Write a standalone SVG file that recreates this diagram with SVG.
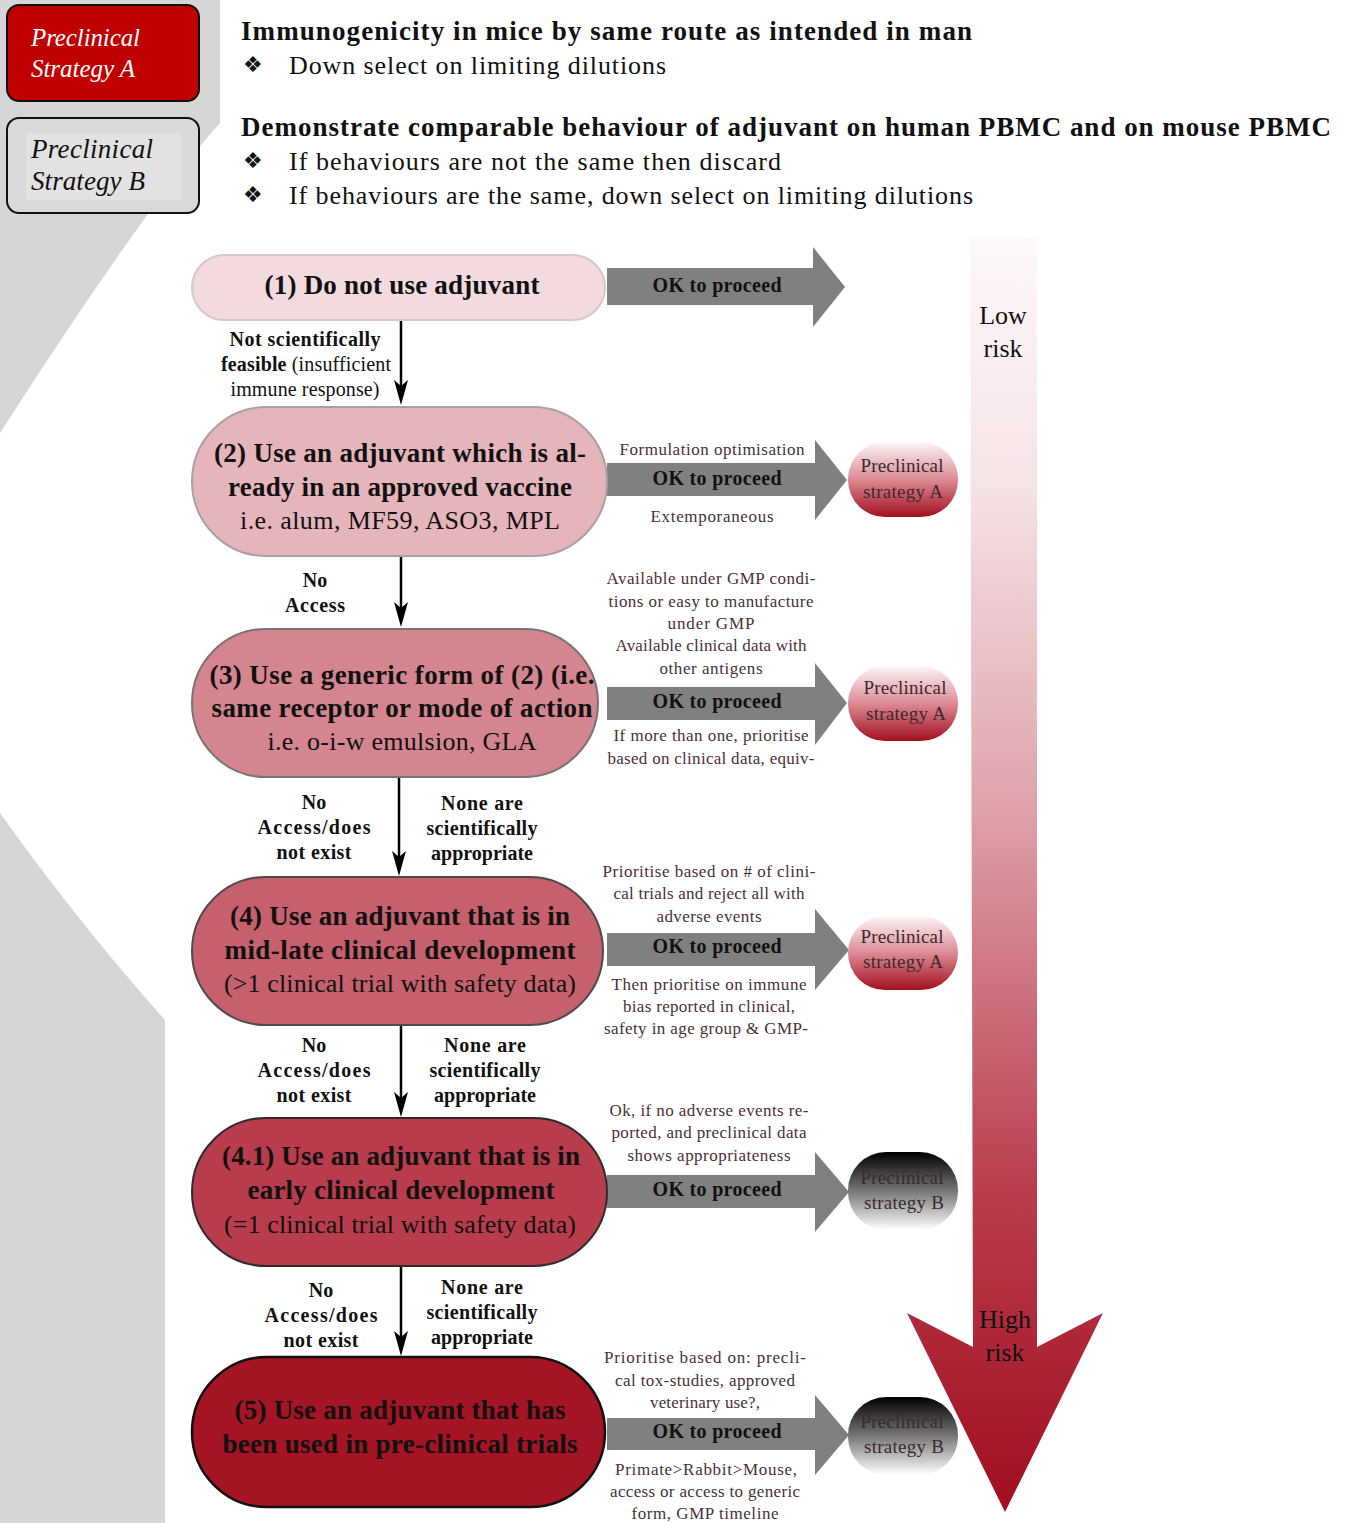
<svg xmlns="http://www.w3.org/2000/svg" width="1347" height="1523" viewBox="0 0 1347 1523">
<defs>
<style>
text{font-family:"Liberation Serif","DejaVu Serif",serif;fill:#111}
.b{font-weight:bold}
.hd{font-size:27px}
.bl{font-size:26px}
.nd{font-size:26px}
.nb{font-size:27px;font-weight:bold}
.lb{font-size:20px;font-weight:bold;text-anchor:middle}
.sn{font-size:17px;fill:#4a3035;text-anchor:middle}
.ok{font-size:20px;font-weight:bold;text-anchor:middle}
.bd{font-size:19px;fill:#3a2a2c;text-anchor:middle}
.mid{text-anchor:middle}
.blk{fill:#808080}
.conn{stroke:#000;stroke-width:2.5;fill:none}
.head{fill:#000}
</style>
<linearGradient id="gA" x1="0" y1="0" x2="0" y2="1">
<stop offset="0" stop-color="#fdf6f7"/>
<stop offset="0.5" stop-color="#dc8a95"/>
<stop offset="1" stop-color="#a30f1f"/>
</linearGradient>
<linearGradient id="gB" x1="0" y1="0" x2="0" y2="1">
<stop offset="0" stop-color="#000"/>
<stop offset="0.5" stop-color="#777"/>
<stop offset="1" stop-color="#fff"/>
</linearGradient>
<linearGradient id="gR" gradientUnits="userSpaceOnUse" x1="0" y1="238" x2="0" y2="1512">
<stop offset="0" stop-color="#fdf8f9"/>
<stop offset="0.2" stop-color="#f5e2e5"/>
<stop offset="0.45" stop-color="#dfa1aa"/>
<stop offset="0.75" stop-color="#b93c4d"/>
<stop offset="1" stop-color="#a10e20"/>
</linearGradient>
</defs>

<!-- background -->
<rect width="1347" height="1523" fill="#fff"/>
<path d="M0,0 H220 V123 Q150,200 0,433 Z" fill="#d6d6d6"/>
<path d="M0,813 Q80,925 165,1020 V1523 H0 Z" fill="#d6d6d6"/>

<!-- legend boxes -->
<g id="legend-a">
<rect x="7" y="5" width="192" height="96" rx="12" fill="#c00000" stroke="#111" stroke-width="2"/>
<text x="31" y="46" font-size="25" font-style="italic" style="fill:#fff" textLength="109">Preclinical</text>
<text x="31" y="77" font-size="25" font-style="italic" style="fill:#fff" textLength="104">Strategy A</text>
</g>
<g id="legend-b">
<rect x="7" y="118" width="192" height="95" rx="12" fill="#dadada" stroke="#111" stroke-width="2"/>
<rect x="26" y="133" width="155" height="67" fill="#e2e2e2"/>
<text x="31" y="158" font-size="27" font-style="italic" textLength="122">Preclinical</text>
<text x="31" y="190" font-size="27" font-style="italic" textLength="114">Strategy B</text>
</g>

<!-- header -->
<g id="header">
<text x="241" y="40" class="hd b" textLength="731">Immunogenicity in mice by same route as intended in man</text>
<text x="243" y="72" font-size="22" style="font-family:'DejaVu Sans',sans-serif">❖</text>
<text x="289" y="74" class="bl" textLength="377">Down select on limiting dilutions</text>
<text x="241" y="136" class="hd b" textLength="1090">Demonstrate comparable behaviour of adjuvant on human PBMC and on mouse PBMC</text>
<text x="243" y="168" font-size="22" style="font-family:'DejaVu Sans',sans-serif">❖</text>
<text x="289" y="170" class="bl" textLength="492">If behaviours are not the same then discard</text>
<text x="243" y="202" font-size="22" style="font-family:'DejaVu Sans',sans-serif">❖</text>
<text x="289" y="204" class="bl" textLength="684">If behaviours are the same, down select on limiting dilutions</text>
</g>

<!-- risk arrow -->
<g id="risk">
<path d="M970,238 H1037 V1347 L1103,1313 L1005,1512 L907,1313 L973,1347 Z" fill="url(#gR)"/>
<text x="1003" y="324" class="mid" font-size="26">Low</text>
<text x="1003" y="357" class="mid" font-size="26">risk</text>
<text x="1005" y="1328" class="mid" font-size="26">High</text>
<text x="1005" y="1361" class="mid" font-size="26">risk</text>
</g>

<!-- connectors -->
<g id="connectors">
<line class="conn" x1="401" y1="321" x2="401" y2="395"/>
<path class="head" d="M394,380 L401,405 L408,380 L401,386 Z"/>
<line class="conn" x1="401" y1="557" x2="401" y2="617"/>
<path class="head" d="M394,602 L401,627 L408,602 L401,608 Z"/>
<line class="conn" x1="399" y1="778" x2="399" y2="866"/>
<path class="head" d="M392,851 L399,876 L406,851 L399,857 Z"/>
<line class="conn" x1="401" y1="1026" x2="401" y2="1107"/>
<path class="head" d="M394,1092 L401,1117 L408,1092 L401,1098 Z"/>
<line class="conn" x1="401" y1="1267" x2="401" y2="1346"/>
<path class="head" d="M394,1331 L401,1356 L408,1331 L401,1337 Z"/>
<!-- block arrows -->
<path class="blk" d="M607,268 H813 V247 L845,287 L813,327 V305 H607 Z"/>
<path class="blk" d="M607,463 H815 V440 L847,480 L815,520 V496 H607 Z"/>
<path class="blk" d="M607,687 H815 V663 L847,703 L815,745 V720 H607 Z"/>
<path class="blk" d="M607,933 H815 V909 L849,950 L815,990 V966 H607 Z"/>
<path class="blk" d="M607,1175 H815 V1152 L849,1192 L815,1232 V1208 H607 Z"/>
<path class="blk" d="M607,1418 H815 V1395 L849,1435 L815,1475 V1450 H607 Z"/>
<text x="717" y="292" class="ok" textLength="129">OK to proceed</text>
<text x="717" y="485" class="ok" textLength="129">OK to proceed</text>
<text x="717" y="708" class="ok" textLength="129">OK to proceed</text>
<text x="717" y="953" class="ok" textLength="129">OK to proceed</text>
<text x="717" y="1196" class="ok" textLength="129">OK to proceed</text>
<text x="717" y="1438" class="ok" textLength="129">OK to proceed</text>
<!-- decision labels -->
<text x="305" y="346" class="lb" textLength="151">Not scientifically</text>
<text x="306" y="371" class="lb" textLength="170">feasible <tspan font-weight="normal">(insufficient</tspan></text>
<text x="305" y="396" class="lb" style="font-weight:normal" textLength="149">immune response)</text>
<text x="315" y="587" class="lb">No</text>
<text x="315" y="612" class="lb" textLength="60">Access</text>
<text x="314" y="809" class="lb">No</text>
<text x="314" y="834" class="lb" textLength="113">Access/does</text>
<text x="314" y="859" class="lb" textLength="75">not exist</text>
<text x="482" y="810" class="lb" textLength="82">None are</text>
<text x="482" y="835" class="lb" textLength="111">scientifically</text>
<text x="482" y="860" class="lb" textLength="102">appropriate</text>
<text x="314" y="1052" class="lb">No</text>
<text x="314" y="1077" class="lb" textLength="113">Access/does</text>
<text x="314" y="1102" class="lb" textLength="75">not exist</text>
<text x="485" y="1052" class="lb" textLength="82">None are</text>
<text x="485" y="1077" class="lb" textLength="111">scientifically</text>
<text x="485" y="1102" class="lb" textLength="102">appropriate</text>
<text x="321" y="1297" class="lb">No</text>
<text x="321" y="1322" class="lb" textLength="113">Access/does</text>
<text x="321" y="1347" class="lb" textLength="75">not exist</text>
<text x="482" y="1294" class="lb" textLength="82">None are</text>
<text x="482" y="1319" class="lb" textLength="111">scientifically</text>
<text x="482" y="1344" class="lb" textLength="102">appropriate</text>
<!-- side notes -->
<text x="712" y="455" class="sn" textLength="185">Formulation optimisation</text>
<text x="712" y="522" class="sn" textLength="123">Extemporaneous</text>
<text x="711" y="584" class="sn" textLength="209">Available under GMP condi-</text>
<text x="711" y="607" class="sn" textLength="205">tions or easy to manufacture</text>
<text x="711" y="629" class="sn" textLength="87">under GMP</text>
<text x="711" y="651" class="sn" textLength="191">Available clinical data with</text>
<text x="711" y="674" class="sn" textLength="103">other antigens</text>
<text x="711" y="741" class="sn" textLength="195">If more than one, prioritise</text>
<text x="711" y="764" class="sn" textLength="207">based on clinical data, equiv-</text>
<text x="709" y="877" class="sn" textLength="213">Prioritise based on # of clini-</text>
<text x="709" y="899" class="sn" textLength="191">cal trials and reject all with</text>
<text x="709" y="922" class="sn" textLength="105">adverse events</text>
<text x="709" y="990" class="sn" textLength="195">Then prioritise on immune</text>
<text x="709" y="1012" class="sn" textLength="172">bias reported in clinical,</text>
<text x="706" y="1034" class="sn" textLength="204">safety in age group &amp; GMP-</text>
<text x="709" y="1116" class="sn" textLength="199">Ok, if no adverse events re-</text>
<text x="709" y="1138" class="sn" textLength="195">ported, and preclinical data</text>
<text x="709" y="1161" class="sn" textLength="163">shows appropriateness</text>
<text x="705" y="1363" class="sn" textLength="202">Prioritise based on: precli-</text>
<text x="705" y="1386" class="sn" textLength="180">cal tox-studies, approved</text>
<text x="705" y="1408" class="sn" textLength="110">veterinary use?,</text>
<text x="706" y="1475" class="sn" textLength="182">Primate&gt;Rabbit&gt;Mouse,</text>
<text x="705" y="1497" class="sn" textLength="190">access or access to generic</text>
<text x="705" y="1519" class="sn" textLength="147">form, GMP timeline</text>
</g>

<!-- nodes -->
<g id="n1">
<rect x="192" y="255" width="413" height="65" rx="32.5" fill="#f2dadf" stroke="#d9c6c9" stroke-width="2"/>
<text x="402" y="294" class="mid nb" font-size="26" textLength="275">(1) Do not use adjuvant</text>
</g>
<g id="n2">
<rect x="192" y="407" width="415" height="149" rx="74.5" fill="#e6b5bc" stroke="#a9a0a2" stroke-width="2"/>
<text x="400" y="462" class="nb mid" textLength="372">(2) Use an adjuvant which is al-</text>
<text x="400" y="496" class="nb mid" textLength="344">ready in an approved vaccine</text>
<text x="400" y="529" class="nd mid" textLength="320">i.e. alum, MF59, ASO3, MPL</text>
</g>
<g id="n3">
<rect x="192" y="629" width="406" height="148" rx="74" fill="#d4858f" stroke="#7a7273" stroke-width="2"/>
<text x="402" y="684" class="nb mid" textLength="385">(3) Use a generic form of (2) (i.e.</text>
<text x="402" y="717" class="nb mid" textLength="381">same receptor or mode of action</text>
<text x="402" y="750" class="nd mid" textLength="269">i.e. o-i-w emulsion, GLA</text>
</g>
<g id="n4">
<rect x="192" y="877" width="411" height="148" rx="74" fill="#c5606c" stroke="#4f4a4b" stroke-width="2"/>
<text x="400" y="925" class="nb mid" textLength="340">(4) Use an adjuvant that is in</text>
<text x="400" y="959" class="nb mid" textLength="351">mid-late clinical development</text>
<text x="400" y="992" class="nd mid" textLength="352">(&gt;1 clinical trial with safety data)</text>
</g>
<g id="n41">
<rect x="192" y="1118" width="415" height="148" rx="74" fill="#b83c4c" stroke="#2f2a2b" stroke-width="2"/>
<text x="401" y="1165" class="nb mid" textLength="358">(4.1) Use an adjuvant that is in</text>
<text x="401" y="1199" class="nb mid" textLength="307">early clinical development</text>
<text x="400" y="1233" class="nd mid" textLength="352">(=1 clinical trial with safety data)</text>
</g>
<g id="n5">
<rect x="192" y="1357" width="413" height="150" rx="75" fill="#a51424" stroke="#111" stroke-width="2.5"/>
<text x="400" y="1419" class="nb mid" textLength="331">(5) Use an adjuvant that has</text>
<text x="400" y="1453" class="nb mid" textLength="355">been used in pre-clinical trials</text>
</g>

<!-- badges -->
<g id="badge-a1">
<rect x="848" y="442" width="110" height="75" rx="37" fill="url(#gA)"/>
<text x="902" y="472" class="bd" textLength="83">Preclinical</text>
<text x="903" y="498" class="bd" textLength="80">strategy A</text>
</g>
<g id="badge-a2">
<rect x="848" y="666" width="110" height="75" rx="37" fill="url(#gA)"/>
<text x="905" y="694" class="bd" textLength="83">Preclinical</text>
<text x="906" y="720" class="bd" textLength="80">strategy A</text>
</g>
<g id="badge-a3">
<rect x="848" y="916" width="110" height="74" rx="37" fill="url(#gA)"/>
<text x="902" y="943" class="bd" textLength="83">Preclinical</text>
<text x="903" y="968" class="bd" textLength="80">strategy A</text>
</g>
<g id="badge-b1">
<rect x="848" y="1152" width="110" height="78" rx="38" fill="url(#gB)"/>
<text x="902" y="1184" class="bd" textLength="83">Preclinical</text>
<text x="904" y="1209" class="bd" textLength="80">strategy B</text>
</g>
<g id="badge-b2">
<rect x="848" y="1397" width="110" height="78" rx="38" fill="url(#gB)"/>
<text x="902" y="1428" class="bd" textLength="83">Preclinical</text>
<text x="904" y="1453" class="bd" textLength="80">strategy B</text>
</g>
</svg>
